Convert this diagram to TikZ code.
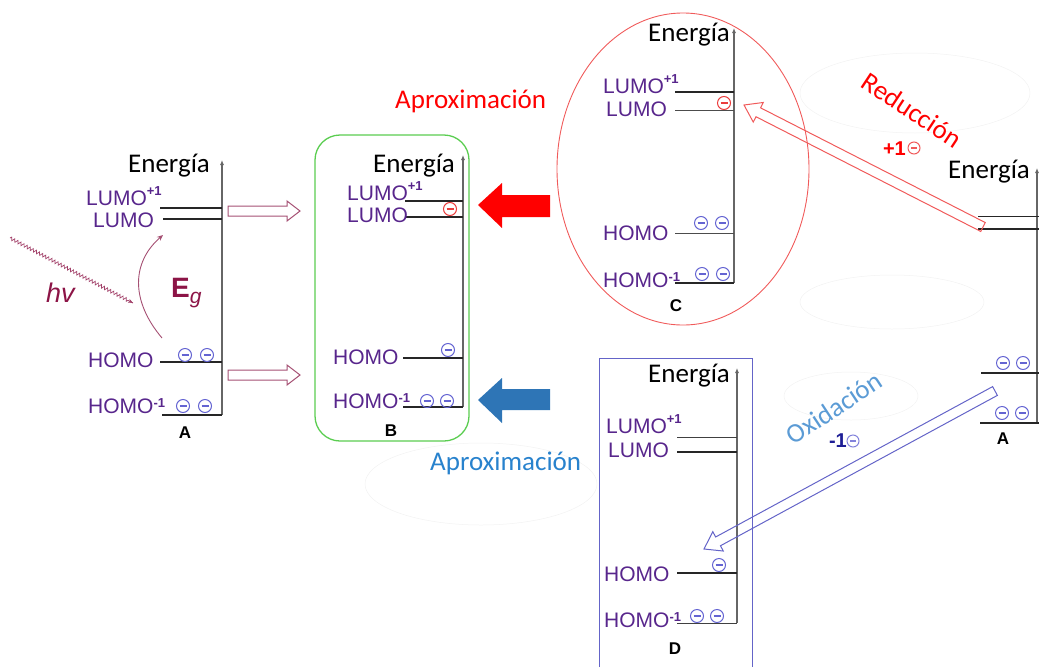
\documentclass[tikz,border=0pt]{standalone}
\usepackage{fontspec}
\setmainfont{Liberation Sans}
\newfontfamily\calib{Carlito}
\usetikzlibrary{calc,arrows.meta,decorations.pathmorphing}
\definecolor{lvl}{RGB}{88,38,140}
\definecolor{eblue}{RGB}{100,100,210}
\definecolor{ered}{RGB}{235,60,60}
\definecolor{maroon}{RGB}{140,20,70}
\definecolor{rose}{RGB}{165,80,115}
\definecolor{bgreen}{RGB}{90,205,80}
\definecolor{cred}{RGB}{240,90,90}
\definecolor{dbox}{RGB}{100,100,200}
\definecolor{bigblue}{RGB}{46,117,182}
\definecolor{aprox}{RGB}{40,130,205}
\definecolor{oxi}{RGB}{91,155,213}
\definecolor{dkblue}{RGB}{30,30,150}
\newcommand\supp[1]{\raisebox{10pt}{\fontsize{13}{13}\selectfont\bfseries #1}}
\newcommand\supm[1]{\raisebox{5.5pt}{\fontsize{13}{13}\selectfont\bfseries #1}}
\newcommand\hollowarr[6]{%
  \coordinate (hb) at ($(#3)!#6!(#2)$);
  \draw[#1] ($(#2)!#4!90:(#3)$) -- ($(hb)!#4!90:(#3)$) -- ($(hb)!#5!90:(#3)$) -- (#3)
    -- ($(hb)!#5!-90:(#3)$) -- ($(hb)!#4!-90:(#3)$) -- ($(#2)!#4!-90:(#3)$) -- cycle;}
\tikzset{
  lv/.style={text=lvl,font=\fontsize{21}{21}\selectfont,inner sep=0pt,anchor=base west},
  en/.style={font=\calib\fontsize{27}{27}\selectfont,inner sep=0pt,anchor=base west},
  lvline/.style={line width=1.2pt,black!85},
  axis/.style={line width=1.1pt,black!60,-{Latex[length=5pt,width=4pt]}},
  elec/.style={circle,draw=#1,line width=1pt,minimum size=13pt,inner sep=0pt,
    path picture={\draw[#1,line width=1.1pt] ([xshift=3pt]path picture bounding box.west) -- ([xshift=-3pt]path picture bounding box.east);}},
  lett/.style={font=\fontsize{17}{17}\selectfont\bfseries,inner sep=0pt},
  faint/.style={black!5,line width=0.5pt}
}
\begin{document}
\begin{tikzpicture}[x=1pt,y=-1pt]
\useasboundingbox (0,0) rectangle (1039,667);
% faint ellipses
\draw[faint] (481,484) ellipse [x radius=116,y radius=41];
\draw[faint] (915,93) ellipse [x radius=115,y radius=40];
\draw[faint] (892,302) ellipse [x radius=92,y radius=27];
\draw[faint] (851,396) ellipse [x radius=67,y radius=24];

% ================= Diagram A (left)
\node[en] (aE) at (128,172) {Energía};
\draw[axis] (222,415) -- (222,160);
\draw[lvline] (160,208) -- (222,208);
\draw[lvline] (163,219) -- (222,219);
\draw[lvline] (160,362) -- (222,362);
\draw[lvline] (162,415) -- (222,415);
\node[lv] (aL1) at (86,205) {LUMO\supp{+1}};
\node[lv] (aL) at (93,227) {LUMO};
\node[lv] (aH) at (88,367) {HOMO};
\node[lv] (aH1) at (88,413) {HOMO\supm{-1}};
\node[elec=eblue] (ae1) at (185,355) {};
\node[elec=eblue] (ae2) at (207,355) {};
\node[elec=eblue] (ae3) at (183,406) {};
\node[elec=eblue] (ae4) at (205,406) {};
\node[lett] (aA) at (185,433) {A};
\node[text=maroon,inner sep=0pt,anchor=base west] (eg) at (171,297)
  {\fontsize{28}{28}\selectfont\bfseries E\raisebox{-6pt}{\fontsize{21}{21}\selectfont\mdseries\itshape g}};
\coordinate (cv0) at (162,338); \coordinate (cv1) at (163,235);
\draw[rose,line width=0.9pt,-{Stealth[length=6pt,width=5pt]}] (cv0) .. controls (130,300) and (132,262) .. (cv1);
\coordinate (wv0) at (10,238); \coordinate (wv1) at (133,303);
\draw[maroon!80,line width=0.7pt,decorate,decoration={snake,amplitude=1.6pt,segment length=3.5pt,post length=4pt}] (wv0) -- (wv1);
\draw[maroon!80,-{Stealth[length=5pt,width=4pt]}] ($(wv1)!5pt!(wv0)$) -- (wv1);
\node[text=maroon,font=\fontsize{27}{27}\selectfont\itshape,inner sep=0pt,anchor=base west] (hv) at (46,302) {hv};
% hollow arrows A -> B
\coordinate (t1) at (228,211); \coordinate (h1) at (300,211);
\hollowarr{rose,line width=1pt}{t1}{h1}{5pt}{10pt}{13pt}
\coordinate (t2) at (228,375); \coordinate (h2) at (300,375);
\hollowarr{rose,line width=1pt}{t2}{h2}{5pt}{10pt}{13pt}

% ================= Diagram B
\draw[bgreen,line width=1.3pt,rounded corners=25pt] (315,135) rectangle (469,441);
\node[en] (bE) at (373,172) {Energía};
\draw[axis] (463,407) -- (463,155);
\draw[lvline] (405,201) -- (463,201);
\draw[lvline] (405,217) -- (463,217);
\draw[lvline] (403,358) -- (463,358);
\draw[lvline] (403,407) -- (463,407);
\node[lv] (bL1) at (347,200) {LUMO\supp{+1}};
\node[lv] (bL) at (347,222) {LUMO};
\node[lv] (bH) at (333,364) {HOMO};
\node[lv] (bH1) at (333,408) {HOMO\supm{-1}};
\node[elec=ered] (be0) at (450,209) {};
\node[elec=eblue] (be1) at (448,350) {};
\node[elec=eblue] (be2) at (427,401) {};
\node[elec=eblue] (be3) at (447,401) {};
\node[lett] (bB) at (391,431) {B};

% big filled arrows
\fill[red] (550,195) -- (502,195) -- (502,183) -- (478,205) -- (502,228) -- (502,217) -- (550,217) -- cycle;
\fill[bigblue] (550,389) -- (502,389) -- (502,378) -- (478,400) -- (502,423) -- (502,410) -- (550,410) -- cycle;
\node[font=\calib\fontsize{27}{27}\selectfont,text=red,inner sep=0pt,anchor=base west] (apr1) at (395,108) {Aproximación};
\node[font=\calib\fontsize{27}{27}\selectfont,text=aprox,inner sep=0pt,anchor=base west] (apr2) at (430,470) {Aproximación};

% ================= Diagram C
\draw[cred,line width=0.9pt] (683,169) ellipse [x radius=126,y radius=156];
\node[en] (cE) at (648,41) {Energía};
\draw[axis] (734,283) -- (734,28);
\draw[lvline] (675,92) -- (734,92);
\draw[lvline,black!70,line width=1pt] (675,110) -- (734,110);
\draw[lvline,black!70,line width=1pt] (675,233) -- (734,233);
\draw[lvline] (675,283) -- (734,283);
\node[lv] (cL1) at (603,93) {LUMO\supp{+1}};
\node[lv] (cL) at (606,116) {LUMO};
\node[lv] (cH) at (603,240) {HOMO};
\node[lv] (cH1) at (603,287) {HOMO\supm{-1}};
\node[elec=ered] (ce0) at (724,103) {};
\node[elec=eblue] (ce1) at (701,223) {};
\node[elec=eblue] (ce2) at (722,223) {};
\node[elec=eblue] (ce3) at (702,274) {};
\node[elec=eblue] (ce4) at (723,274) {};
\node[lett] (cC) at (676,306) {C};

% ================= Diagram A' (right, cut)
\node[en] (rE) at (948,178) {Energía};
\draw[axis] (1037,423) -- (1037,168);
\draw[lvline,line width=1pt] (978,216) -- (1039,216);
\draw[lvline,line width=1.4pt] (978,229) -- (1039,229);
\draw[lvline] (981,373) -- (1039,373);
\draw[lvline] (980,423) -- (1039,423);
\node[elec=eblue] (re1) at (1003,363) {};
\node[elec=eblue] (re2) at (1023,363) {};
\node[elec=eblue] (re3) at (1002,413) {};
\node[elec=eblue] (re4) at (1022,413) {};
\node[lett] (rA) at (1003,439) {A};

% Reduccion arrow
\coordinate (rt) at (983,227); \coordinate (rh) at (744,105);
\hollowarr{cred,line width=1pt}{rt}{rh}{5pt}{11pt}{16pt}
\node[font=\calib\fontsize{27}{27}\selectfont,text=red,rotate=-33.5,inner sep=0pt] (red) at (912,110) {Reducción};
\node[font=\fontsize{20}{20}\selectfont\bfseries,text=red,inner sep=0pt,anchor=base east] (p1) at (906,155) {+1};
\node[elec=cred,minimum size=12pt] (pe) at (914,148) {};

% ================= Diagram D
\draw[dbox,line width=1pt] (599,667) -- (599,358) -- (752,358) -- (752,667);
\node[en] (dE) at (648,382) {Energía};
\draw[axis] (737,623) -- (737,368);
\draw[lvline,black!75,line width=1pt] (677,437) -- (737,437);
\draw[lvline] (677,452) -- (737,452);
\draw[lvline] (677,573) -- (737,573);
\draw[lvline,black!75,line width=1pt] (677,623) -- (737,623);
\node[lv] (dL1) at (606,433) {LUMO\supp{+1}};
\node[lv] (dL) at (608,457) {LUMO};
\node[lv] (dH) at (604,581) {HOMO};
\node[lv] (dH1) at (604,627) {HOMO\supm{-1}};
\node[elec=eblue] (de1) at (719,565) {};
\node[elec=eblue] (de2) at (697,616) {};
\node[elec=eblue] (de3) at (717,616) {};
\node[lett] (dD) at (675,649) {D};

% Oxidacion arrow
\coordinate (ot) at (995,391); \coordinate (oh) at (704,549);
\hollowarr{dbox,line width=1pt}{ot}{oh}{5pt}{11pt}{16pt}
\node[font=\calib\fontsize{27}{27}\selectfont,text=oxi,rotate=33.5,inner sep=0pt] (oxn) at (834,408) {Oxidación};
\node[font=\fontsize{20}{20}\selectfont\bfseries,text=dkblue,inner sep=0pt,anchor=base east] (m1) at (847,447) {-1};
\node[elec=eblue!80,minimum size=12pt] (me) at (853,441) {};
\end{tikzpicture}
\end{document}
